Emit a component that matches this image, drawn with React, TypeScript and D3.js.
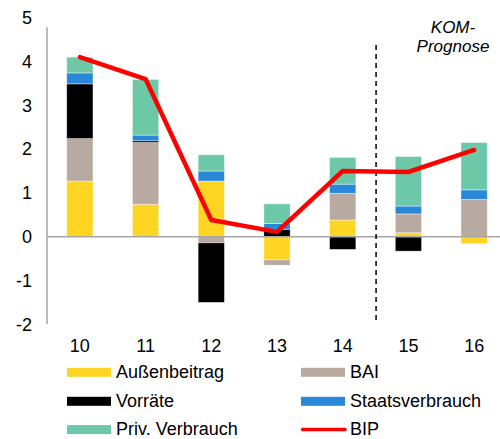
import React from "react";
import * as d3 from "d3";

const years = ["10", "11", "12", "13", "14", "15", "16"];
const aussenbeitrag = [1.27, 0.74, 1.27, -0.53, 0.38, 0.09, -0.16];
const bai = [0.97, 1.41, -0.14, -0.12, 0.61, 0.43, 0.85];
const vorraete = [1.25, 0.04, -1.36, 0.17, -0.29, -0.33, 0];
const staatsverbrauch = [0.25, 0.13, 0.23, 0.13, 0.21, 0.18, 0.22];
const privVerbrauch = [0.36, 1.27, 0.37, 0.45, 0.61, 1.13, 1.08];
const bip = [4.1, 3.6, 0.38, 0.11, 1.5, 1.48, 1.98];
const yTicks = [5, 4, 3, 2, 1, 0, -1, -2];

const seriesNames = ["Außenbeitrag", "BAI", "Vorräte", "Staatsverbrauch", "Priv. Verbrauch"];
const seriesValues = [aussenbeitrag, bai, vorraete, staatsverbrauch, privVerbrauch];
const seriesColors = ["#FFD523", "#B8A9A1", "#000000", "#2A88D9", "#6DC8A8"];

export default function App() {
  const W = 500, H = 439;
  const x = d3.scaleBand<string>().domain(years).range([47, 507]).paddingInner(0.6).paddingOuter(0.3);
  const y = d3.scaleLinear().domain([-2, 5]).range([324.3, 17.7]);

  const table = years.map((yr, i) => {
    const row: any = { year: yr };
    seriesNames.forEach((n, k) => (row[n] = seriesValues[k][i]));
    return row;
  });
  const stack = d3.stack<any>().keys(seriesNames).offset(d3.stackOffsetDiverging);
  const stacked = stack(table);

  const cx = (yr: string) => (x(yr) as number) + x.bandwidth() / 2;
  const line = d3.line<number>().x((_, i) => cx(years[i])).y((v) => y(v));

  const font = "'Liberation Sans', Arial, sans-serif";
  const divX = (cx("14") + cx("15")) / 2 + 0.5;

  const legend = [
    { name: "Außenbeitrag", color: seriesColors[0], col: 0, row: 0, type: "rect" },
    { name: "BAI", color: seriesColors[1], col: 1, row: 0, type: "rect" },
    { name: "Vorräte", color: seriesColors[2], col: 0, row: 1, type: "rect" },
    { name: "Staatsverbrauch", color: seriesColors[3], col: 1, row: 1, type: "rect" },
    { name: "Priv. Verbrauch", color: seriesColors[4], col: 0, row: 2, type: "rect" },
    { name: "BIP", color: "#FF0000", col: 1, row: 2, type: "line" },
  ];
  const colX = [67, 301];
  const rowY = [372.3, 401.3, 429.6];

  return (
    <svg width={W} height={H} style={{ position: "absolute", left: 0, top: 0, background: "#fff" }} fontFamily={font}>
      {/* y axis line */}
      <line x1={47} x2={47} y1={y(4.78)} y2={y(-2)} stroke="#A6A6A6" strokeWidth={1.5} />
      {yTicks.map((t) => (
        <text key={t} x={32} y={y(t)} dy="0.35em" textAnchor="end" fontSize={18} fill="#000">
          {t}
        </text>
      ))}
      {/* bars */}
      {stacked.map((s, k) => (
        <g key={s.key} fill={seriesColors[k]}>
          {s.map((d, i) => {
            const y0 = y(d[0]), y1 = y(d[1]);
            const h = Math.abs(y0 - y1);
            if (h < 0.01) return null;
            return (
              <rect
                key={i}
                x={x(years[i])}
                y={Math.min(y0, y1)}
                width={x.bandwidth()}
                height={h}
                stroke="#ffffff"
                strokeOpacity={0.5}
                strokeWidth={0.8}
              />
            );
          })}
        </g>
      ))}
      {/* zero line */}
      <line x1={47} x2={W} y1={y(0)} y2={y(0)} stroke="#A6A6A6" strokeWidth={1.5} />
      {/* forecast divider */}
      <line x1={divX} x2={divX} y1={45} y2={322} stroke="#000" strokeWidth={1.5} strokeDasharray="5,4" />
      <text x={453} y={33} textAnchor="middle" fontSize={17} fontStyle="italic">KOM-</text>
      <text x={453} y={52} textAnchor="middle" fontSize={17} fontStyle="italic">Prognose</text>
      {/* BIP line */}
      <path d={line(bip) || ""} fill="none" stroke="#FF0000" strokeWidth={4.5} strokeLinecap="round" strokeLinejoin="miter" />
      {/* x labels */}
      {years.map((yr) => (
        <text key={yr} x={cx(yr)} y={351.5} textAnchor="middle" fontSize={18}>
          {yr}
        </text>
      ))}
      {/* legend */}
      {legend.map((l) => (
        <g key={l.name}>
          {l.type === "rect" ? (
            <rect x={colX[l.col]} y={rowY[l.row] - 4.5} width={44} height={9} fill={l.color} />
          ) : (
            <line x1={colX[l.col] + 1.5} x2={colX[l.col] + 44} y1={rowY[l.row]} y2={rowY[l.row]} stroke={l.color} strokeWidth={3.5} strokeLinecap="round" />
          )}
          <text x={colX[l.col] + 49} y={rowY[l.row] + 5.6} fontSize={18}>
            {l.name}
          </text>
        </g>
      ))}
    </svg>
  );
}
